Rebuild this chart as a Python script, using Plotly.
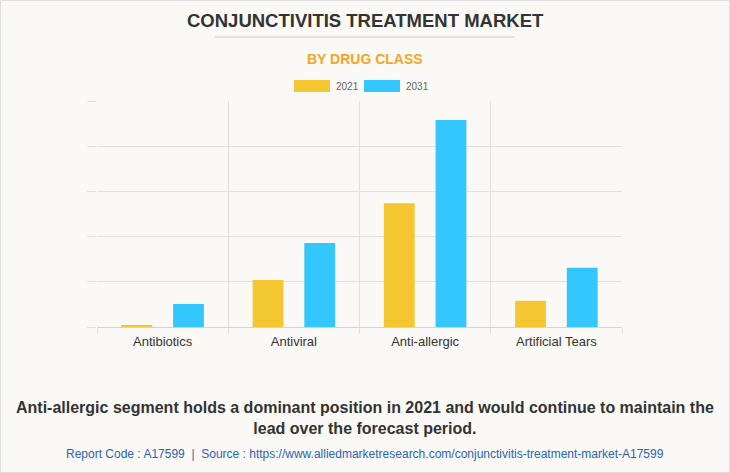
import plotly.graph_objects as go

categories = ["Antibiotics", "Antiviral", "Anti-allergic", "Artificial Tears"]
values_2021 = [0.04, 1.04, 2.74, 0.58]
values_2031 = [0.51, 1.86, 4.58, 1.31]
series_names = ["2021", "2031"]
colors = ["#F4C631", "#33C7FE"]

W, H = 730, 473
L, R, T, B = 97, 108, 101, 146
pw, ph = W - L - R, H - T - B

def px(x):
    return (x - L) / pw

def py(y):
    return (H - B - y) / ph

fig = go.Figure()
for name, vals, col in zip(series_names, [values_2021, values_2031], colors):
    fig.add_trace(go.Bar(x=categories, y=vals, name=name, marker_color=col,
                         marker_line_width=0, showlegend=False))

grid = "#E2E0DA"
fig.update_layout(
    width=W, height=H,
    margin=dict(l=L, r=R, t=T, b=B),
    paper_bgcolor="#FAF9F5", plot_bgcolor="#FAF9F5",
    barmode="group", bargap=0.212, bargroupgap=0.404,
    font=dict(family="Liberation Sans, Arial, sans-serif", color="#333333"),
    xaxis=dict(tickson="boundaries", showgrid=True, gridcolor=grid, gridwidth=1,
               ticks="outside", ticklen=6, tickcolor=grid, ticklabelstandoff=5,
               tickfont=dict(size=13, color="#333333"), showline=False, zeroline=False),
    yaxis=dict(range=[0, 5], dtick=1, showticklabels=False, showgrid=True,
               gridcolor=grid, gridwidth=1, ticks="outside", ticklen=9,
               tickcolor=grid, zeroline=True, zerolinecolor="#D6D4CE", zerolinewidth=1,
               showline=False),
)

shapes = [
    # outer border
    dict(type="rect", xref="paper", yref="paper", x0=px(0.5), x1=px(729.5),
         y0=py(472.5), y1=py(0.5), line=dict(color="#DDDDDD", width=1)),
    # title underline
    dict(type="line", xref="paper", yref="paper", x0=px(215), x1=px(515),
         y0=py(37), y1=py(37), line=dict(color="#CCCCCC", width=1)),
    # legend keys
    dict(type="rect", xref="paper", yref="paper", x0=px(294), x1=px(330),
         y0=py(92), y1=py(80), fillcolor=colors[0], line=dict(width=0)),
    dict(type="rect", xref="paper", yref="paper", x0=px(364), x1=px(400),
         y0=py(92), y1=py(80), fillcolor=colors[1], line=dict(width=0)),
]
fig.update_layout(shapes=shapes)

annotations = [
    dict(text="<b>CONJUNCTIVITIS TREATMENT MARKET</b>", x=px(365), y=py(20),
         font=dict(size=18.5, color="#333333", family="Liberation Sans, Arial")),
    dict(text="<b>BY DRUG CLASS</b>", x=px(365), y=py(59),
         font=dict(size=14, color="#F5A623", family="Liberation Sans, Arial")),
    dict(text=series_names[0], x=px(334), y=py(86), xanchor="left",
         font=dict(size=10, color="#666666")),
    dict(text=series_names[1], x=px(404), y=py(86), xanchor="left",
         font=dict(size=10, color="#666666")),
    dict(text="<b>Anti-allergic segment holds a dominant position in 2021 and would continue to maintain the<br>lead over the forecast period.</b>",
         x=px(365), y=py(418), font=dict(size=16, color="#333333"), align="center"),
    dict(text="Report Code : A17599  |  Source : https://www.alliedmarketresearch.com/conjunctivitis-treatment-market-A17599",
         x=px(365), y=py(454), font=dict(size=12, color="#2B63B5")),
]
for a in annotations:
    a.update(xref="paper", yref="paper", showarrow=False)
    a.setdefault("xanchor", "center")
    a.setdefault("yanchor", "middle")
fig.update_layout(annotations=annotations)

fig.write_html("out.html", config={"displayModeBar": False})

with open("out.html", "r", encoding="utf-8") as f:
    html = f.read()
html = html.replace("<body>", '<body style="margin:0;padding:0;overflow:hidden">', 1)
with open("out.html", "w", encoding="utf-8") as f:
    f.write(html)
